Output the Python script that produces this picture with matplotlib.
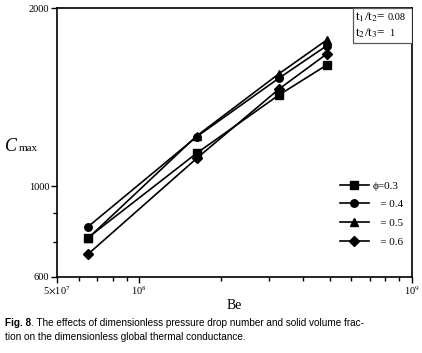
import numpy as np
import matplotlib
matplotlib.use("Agg")
import matplotlib.pyplot as plt
from matplotlib.ticker import FixedLocator, NullFormatter
from matplotlib.patches import Rectangle

plt.rcParams["mathtext.fontset"] = "stix"

# Be values and C_max for each solid volume fraction
be = [6.5e7, 1.625e8, 3.25e8, 4.875e8]
c_03 = [715, 1044, 1355, 1551]
c_04 = [751, 1124, 1461, 1691]
c_05 = [713, 1128, 1490, 1735]
c_06 = [664, 1020, 1391, 1630]

labels = ["\u03d5=0.3", "   = 0.4", "   = 0.5", "   = 0.6"]
markers = ["s", "o", "^", "D"]

# y ticks as printed on the original (the "1000" tick sits at 900 on the scale)
ytick_pos = [600, 900, 2000]
ytick_lab = ["600", "1000", "2000"]
yminor_pos = [700, 800]

serif = ["Liberation Serif", "DejaVu Serif"]

fig = plt.figure(figsize=(4.22, 3.53), dpi=100)
ax = fig.add_axes([0.135, 0.216, 0.841, 0.7605])

for ys, m, lab in zip([c_03, c_04, c_05, c_06], markers, labels):
    ms = 4.8 if m == "D" else 5.4
    ax.plot(be, ys, color="black", lw=1.2, marker=m, ms=ms, label=lab)

ax.set_xscale("log")
ax.set_yscale("log")
ax.set_xlim(5e7, 1e9)
ax.set_ylim(600, 2000)

ax.xaxis.set_major_locator(FixedLocator([5e7, 1e8, 1e9]))
ax.set_xticklabels([r"5$\times$10$^7$", r"10$^8$", r"10$^9$"], fontfamily=serif, fontsize=7.5)
ax.xaxis.set_minor_locator(FixedLocator([6e7, 7e7, 8e7, 9e7] + [k * 1e8 for k in range(2, 10)]))
ax.xaxis.set_minor_formatter(NullFormatter())

ax.yaxis.set_major_locator(FixedLocator(ytick_pos))
ax.set_yticklabels(ytick_lab, fontfamily=serif, fontsize=7.5)
ax.yaxis.set_minor_locator(FixedLocator(yminor_pos))
ax.yaxis.set_minor_formatter(NullFormatter())

ax.tick_params(which="major", direction="out", length=4, width=1, pad=1.5)
ax.tick_params(which="minor", direction="out", length=3, width=1)
for s in ax.spines.values():
    s.set_linewidth(1.2)

ax.set_xlabel("Be", fontfamily=serif, fontsize=10, labelpad=1)
fig.text(0.012, 0.585, "C", fontsize=13, fontfamily=serif, fontstyle="italic", va="center")
fig.text(0.045, 0.578, "max", fontsize=8, fontfamily=serif, va="center")

leg = ax.legend(loc="center left", bbox_to_anchor=(0.785, 0.235), frameon=False,
                prop={"family": serif, "size": 8}, handlelength=2.6,
                handletextpad=0.3, labelspacing=0.8, borderaxespad=0)

# parameter box in the top right corner
ax.add_patch(Rectangle((0.834, 0.871), 0.166, 0.129, transform=ax.transAxes,
                       fc="white", ec="0.35", lw=0.9, zorder=5))
ax.text(0.840, 0.993, "t$_1$/t$_2$=", transform=ax.transAxes, ha="left", va="top",
        fontfamily=serif, fontsize=9.5, zorder=6)
ax.text(0.932, 0.983, "0.08", transform=ax.transAxes, ha="left", va="top",
        fontfamily=serif, fontsize=7.5, zorder=6)
ax.text(0.840, 0.932, "t$_2$/t$_3$=", transform=ax.transAxes, ha="left", va="top",
        fontfamily=serif, fontsize=9.5, zorder=6)
ax.text(0.936, 0.922, "1", transform=ax.transAxes, ha="left", va="top",
        fontfamily=serif, fontsize=7.5, zorder=6)

cap1 = fig.text(0.012, 0.085, "Fig. 8", fontsize=7.2, fontweight="bold",
                fontfamily="Liberation Sans", va="center")
fig.canvas.draw()
bb = cap1.get_window_extent().transformed(fig.transFigure.inverted())
fig.text(bb.x1, 0.085, ". The effects of dimensionless pressure drop number and solid volume frac-",
         fontsize=7.2, fontfamily="Liberation Sans", va="center")
fig.text(0.012, 0.045, "tion on the dimensionless global thermal conductance.",
         fontsize=7.2, fontfamily="Liberation Sans", va="center")

fig.savefig("out.png", dpi=100)
